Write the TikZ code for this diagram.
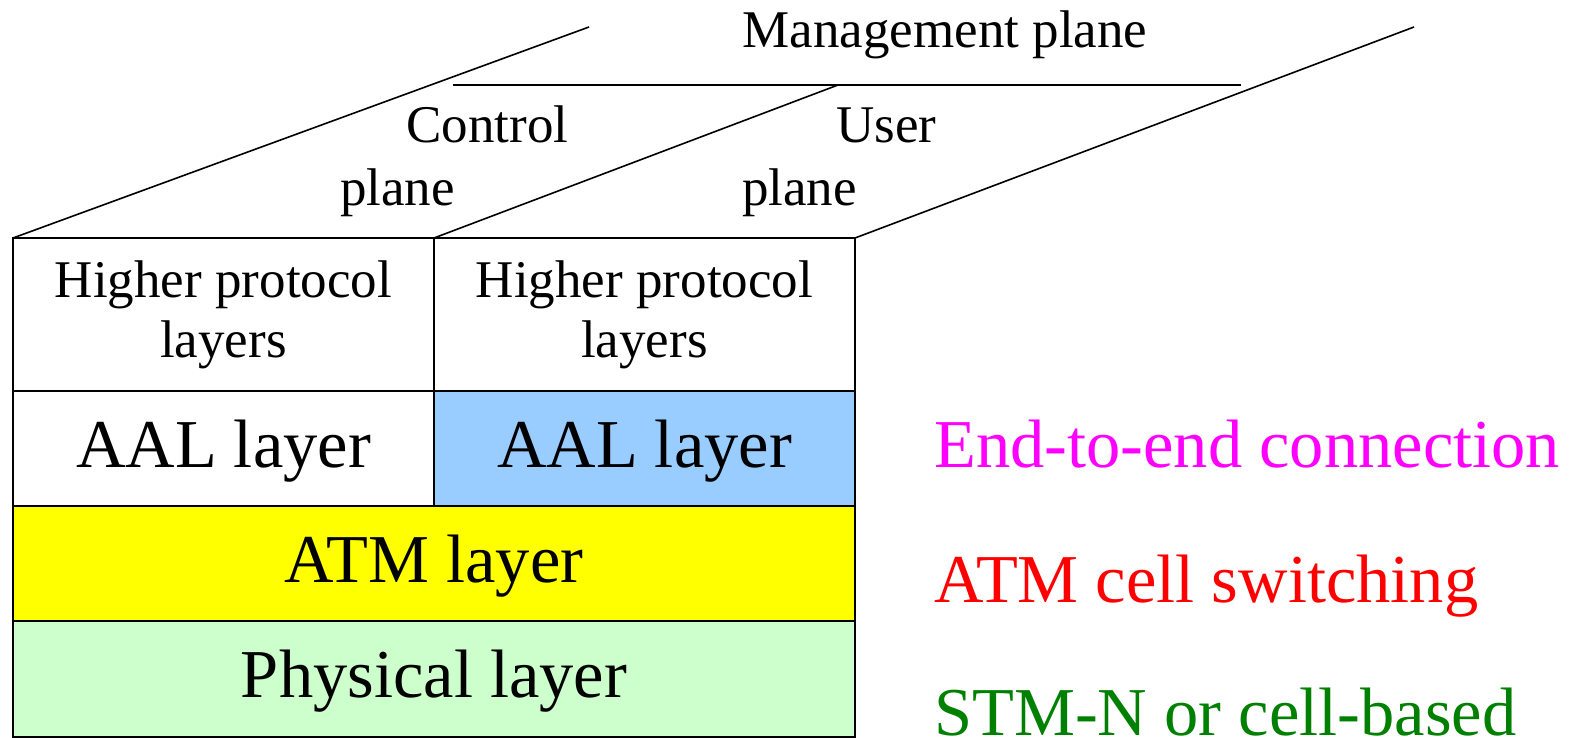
\documentclass[tikz,border=0pt]{standalone}
\usepackage{fontspec}
\setmainfont{Liberation Serif}
\definecolor{aalblue}{HTML}{99CCFF}
\definecolor{atmyellow}{HTML}{FFFF00}
\definecolor{phygreen}{HTML}{CCFFCC}
\definecolor{e2emagenta}{HTML}{FF00FF}
\definecolor{swred}{HTML}{FF0000}
\definecolor{darkgreen}{HTML}{008000}
\begin{document}
\begin{tikzpicture}[x=1pt,y=-1pt,
  edge/.style={line width=1.6pt},
  cell/.style={draw, line width=2pt, inner sep=0pt, outer sep=0pt, anchor=north west},
  smalltext/.style={font=\fontsize{53}{60}\selectfont},
  bigtext/.style={font=\fontsize{68.5}{80}\selectfont},
  layertext/.style={bigtext, text height=47pt, text depth=10pt},
  halfcell/.style={cell, minimum width=421pt},
  fullcell/.style={cell, minimum width=842pt}]
\useasboundingbox (0,0) rectangle (1573,738);

% protocol stack
\node[halfcell, minimum height=153pt, smalltext, align=center] (hiC) at (13,238) {Higher protocol\\layers};
\node[halfcell, minimum height=153pt, smalltext, align=center] (hiU) at (434,238) {Higher protocol\\layers};
\node[halfcell, minimum height=115pt, layertext] (aalC) at (13,391) {AAL layer};
\node[halfcell, minimum height=115pt, layertext, fill=aalblue] (aalU) at (434,391) {AAL layer};
\node[fullcell, minimum height=115pt, layertext, fill=atmyellow] (atm) at (13,506) {ATM layer};
\node[fullcell, minimum height=116pt, layertext, fill=phygreen] (phy) at (13,621) {Physical layer};

% planes in perspective
\coordinate (cTop) at (589,27);
\coordinate (uTop) at (838,85);
\coordinate (mTop) at (1414,27);
\coordinate (mL) at (453,85);
\coordinate (mR) at (1241,85);
\draw[edge] (hiC.north west) -- (cTop);
\draw[edge] (hiU.north west) -- (uTop);
\draw[edge] (hiU.north east) -- (mTop);
\draw[edge] (mL) -- (mR);

% plane labels
\node[smalltext, anchor=base] (mgmt) at (945,48) {Management plane};
\node[smalltext, anchor=base] (ctl1) at (487.5,143) {Control};
\node[smalltext, anchor=base] (ctl2) at (397.5,205) {plane};
\node[smalltext, anchor=base] (usr1) at (886.5,143) {User};
\node[smalltext, anchor=base] (usr2) at (799.5,205) {plane};

% layer functions
\node[bigtext, anchor=base west, inner sep=0pt, text=e2emagenta] (e2e) at (934,467) {End-to-end connection};
\node[bigtext, anchor=base west, inner sep=0pt, text=swred] (sw) at (934,602) {ATM cell switching};
\node[bigtext, anchor=base west, inner sep=0pt, text=darkgreen] (stm) at (934,735) {STM-N or cell-based};
\end{tikzpicture}
\end{document}
